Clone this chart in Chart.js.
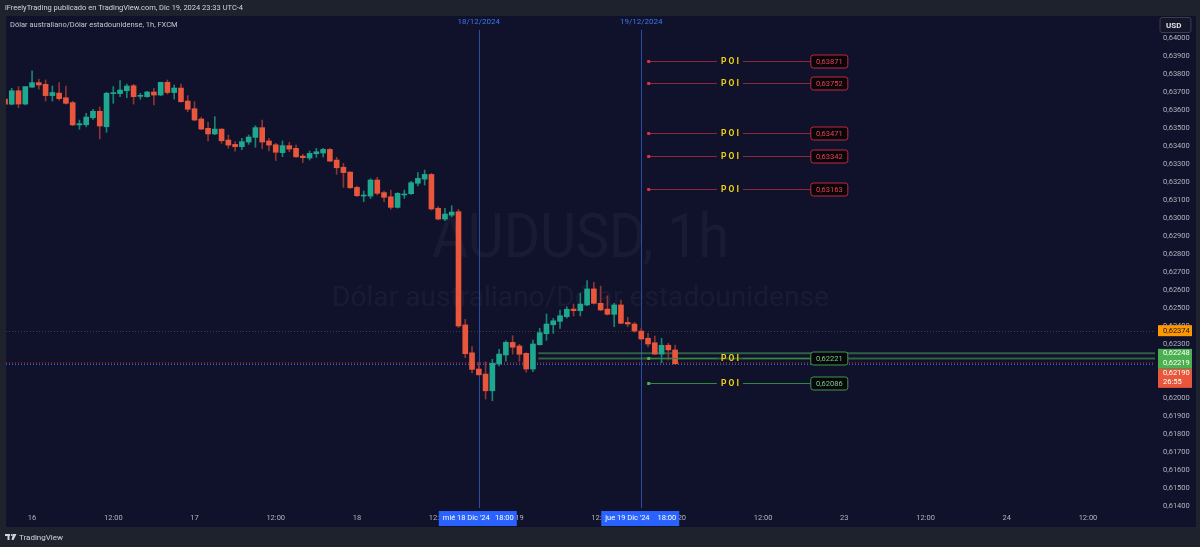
<!DOCTYPE html>
<html>
<head>
<meta charset="utf-8">
<script src="https://cdn.jsdelivr.net/npm/chart.js@4.4.1/dist/chart.umd.min.js"></script>
<style>
  html, body { margin: 0; padding: 0; background: #1e222d; overflow: hidden; }
  canvas { display: block; }
</style>
</head>
<body>
<canvas id="chart" width="1200" height="547"></canvas>
<script>
// AUDUSD 1h candles, prices in 1e-5 units (pipettes), first candle = Dec 15 20:00
const firstHour = -4;
const opens = [
  63661,63632,63707,63633,63727,63752,63743,63680,63694,63668,
  63641,63517,63518,63557,63593,63507,63691,63691,63707,63735,
  63676,63674,63700,63683,63754,63697,63722,63650,63607,63550,
  63498,63467,63494,63433,63409,63396,63422,63448,63502,63428,
  63407,63363,63402,63387,63344,63333,63357,63361,63381,63322,
  63282,63255,63170,63122,63122,63211,63141,63118,63059,63128,
  63135,63193,63216,63242,63054,62994,63016,63035,62406,62251,
  62161,62133,62040,62189,62239,62309,62289,62248,62161,62296,
  62357,62407,62426,62452,62494,62485,62517,62606,62526,62494,
  62465,62517,62420,62411,62372,62332,62307,62244,62293,62267
];
const highs = [
  63672,63721,63730,63730,63817,63771,63767,63733,63752,63733,
  63648,63544,63582,63604,63617,63698,63730,63763,63744,63743,
  63693,63704,63721,63754,63767,63739,63744,63680,63646,63560,
  63532,63563,63496,63461,63424,63442,63461,63513,63544,63442,
  63415,63428,63420,63405,63354,63372,63387,63387,63387,63337,
  63304,63257,63177,63150,63218,63226,63150,63155,63141,63155,
  63204,63252,63266,63248,63063,63054,63068,63048,62437,62285,
  62199,62201,62215,62270,62318,62346,62298,62252,62322,62387,
  62467,62442,62489,62507,62522,62582,62652,62643,62622,62568,
  62526,62544,62448,62420,62387,62359,62344,62332,62304,62294
];
const lows = [
  63622,63628,63613,63628,63725,63716,63650,63650,63654,63632,
  63513,63493,63507,63548,63439,63476,63637,63674,63668,63633,
  63660,63671,63628,63680,63688,63661,63643,63591,63541,63491,
  63428,63463,63415,63387,63371,63379,63409,63393,63385,63372,
  63319,63341,63368,63337,63308,63322,63337,63340,63313,63243,
  63170,63164,63118,63091,63109,63128,63091,63048,63055,63109,
  63131,63178,63183,63044,62989,62985,63007,62392,62224,62140,
  62126,61994,61985,62178,62204,62244,62204,62143,62146,62294,
  62320,62359,62387,62444,62456,62456,62513,62522,62485,62461,
  62396,62411,62396,62365,62322,62285,62242,62196,62211,62188
];
const closes = [
  63633,63707,63633,63730,63752,63739,63680,63697,63663,63637,
  63517,63524,63561,63593,63511,63693,63694,63711,63733,63674,
  63679,63700,63683,63754,63697,63722,63646,63604,63544,63494,
  63467,63494,63429,63405,63396,63424,63450,63502,63422,63405,
  63365,63402,63383,63340,63335,63359,63368,63381,63316,63279,
  63252,63168,63124,63126,63211,63137,63115,63059,63137,63133,
  63196,63220,63242,63050,62994,63022,63033,62400,62246,62159,
  62129,62040,62193,62244,62309,62282,62243,62161,62300,62363,
  62411,62429,62457,62493,62485,62522,62606,62526,62489,62465,
  62517,62415,62411,62372,62328,62300,62244,62293,62267,62190
];

// time axis (hours counted from Dec 16 00:00, weekend skipped)
const tickHours = [0, 12, 24, 36, 48, 60, 72, 84, 96, 108, 120, 132, 144, 156];
const tickLabels = ['16', '12:00', '17', '12:00', '18', '12:00', '19', '12:00', '20', '12:00', '23', '12:00', '24', '12:00'];
const priceTicks = [0.614, 0.615, 0.616, 0.617, 0.618, 0.619, 0.620, 0.621, 0.622, 0.623, 0.624, 0.625, 0.626,
  0.627, 0.628, 0.629, 0.630, 0.631, 0.632, 0.633, 0.634, 0.635, 0.636, 0.637, 0.638, 0.639, 0.640];

// drawings
const redPOI = [0.63871, 0.63752, 0.63471, 0.63342, 0.63163];
const greenPOI = [0.62221, 0.62086];
const greenLevels = [0.62248, 0.62219];
const greenLevelsFromHour = 74.8;
const prevClose = 0.62374;
const lastPrice = 0.62190;
const countdown = '26:55';
const markerHours = [66, 90];
const markerTop = ['18/12/2024', '19/12/2024'];
const markerBottom = ["mié 18 Dic '24", "jue 19 Dic '24"];
const markerTime = ['18:00', '18:00'];

const toPrice = v => v / 100000;
const fmt = v => v.toFixed(5).replace('.', ',');
const UP = '#1ea88f', DOWN = '#e8563c';
const isUp = opens.map((o, i) => closes[i] >= o);

const bodies = opens.map((o, i) => ({ x: firstHour + i, y: [toPrice(o), toPrice(closes[i])] }));
const wicks = highs.map((h, i) => ({ x: firstHour + i, y: [toPrice(lows[i]), toPrice(h)] }));

const FONT = 'Roboto, "Noto Sans", sans-serif';

function scaledText(c, text, cx, baseline, targetW, font) {
  c.font = font;
  const w = c.measureText(text).width;
  c.save();
  c.translate(cx, baseline);
  c.scale(targetW / w, 1);
  c.textAlign = 'center';
  c.textBaseline = 'alphabetic';
  c.fillText(text, 0, 0);
  c.restore();
}

function roundRect(c, x, y, w, h, r) {
  c.beginPath();
  c.moveTo(x + r, y);
  c.lineTo(x + w - r, y);
  c.quadraticCurveTo(x + w, y, x + w, y + r);
  c.lineTo(x + w, y + h - r);
  c.quadraticCurveTo(x + w, y + h, x + w - r, y + h);
  c.lineTo(x + r, y + h);
  c.quadraticCurveTo(x, y + h, x, y + h - r);
  c.lineTo(x, y + r);
  c.quadraticCurveTo(x, y, x + r, y);
  c.closePath();
}

const decor = {
  id: 'decor',
  beforeDraw(chart) {
    const c = chart.ctx;
    c.save();
    c.fillStyle = '#1e222d';
    c.fillRect(0, 0, chart.width, chart.height);
    c.fillStyle = '#10112a';
    c.fillRect(6, 16, 1190, 511);

    c.fillStyle = '#d1d4dc';
    c.font = '7.5px ' + FONT;
    c.textBaseline = 'middle';
    c.fillText('iFreelyTrading publicado en TradingView.com, Dic 19, 2024 23:33 UTC-4', 5, 8);
    c.fillStyle = '#c5c8d0';
    c.fillText('Dólar australiano/Dólar estadounidense, 1h, FXCM', 10, 25);

    // footer logo + name
    c.fillStyle = '#d1d4dc';
    c.fillRect(5, 534, 5, 2);
    c.fillRect(7.5, 534, 2, 6);
    c.beginPath(); c.arc(11.8, 535, 1, 0, Math.PI * 2); c.fill();
    c.beginPath(); c.moveTo(13, 534); c.lineTo(16.5, 534); c.lineTo(13.5, 540); c.lineTo(11.5, 540); c.closePath(); c.fill();
    c.font = '8px ' + FONT;
    c.fillText('TradingView', 19, 537.5);
    c.restore();
  },
  beforeDatasetsDraw(chart) {
    const c = chart.ctx, a = chart.chartArea;
    const xs = chart.scales.x, ys = chart.scales.y;
    c.save();
    c.beginPath(); c.rect(a.left, a.top, a.right - a.left, a.bottom - a.top); c.clip();
    // watermark
    c.fillStyle = 'rgba(150,155,185,0.075)';
    const cx = (a.left + a.right) / 2;
    scaledText(c, 'AUDUSD, 1h', cx, 257, 297, '62px ' + FONT);
    scaledText(c, 'Dólar australiano/Dólar estadounidense', cx, 306, 497, '27px ' + FONT);

    // date markers
    c.strokeStyle = '#2a4ba6';
    c.lineWidth = 1;
    markerHours.forEach(h => {
      const x = Math.round(xs.getPixelForValue(h)) + 0.5;
      c.beginPath(); c.moveTo(x, 30); c.lineTo(x, a.bottom); c.stroke();
    });

    // dotted price lines
    c.setLineDash([1, 2]);
    const yPrev = Math.round(ys.getPixelForValue(prevClose)) + 0.5;
    c.strokeStyle = 'rgba(150,120,70,0.4)';
    c.beginPath(); c.moveTo(a.left, yPrev); c.lineTo(a.right, yPrev); c.stroke();
    const yLast = Math.round(ys.getPixelForValue(lastPrice)) + 0.5;
    c.strokeStyle = 'rgba(232,86,60,0.8)';
    c.beginPath(); c.moveTo(a.left, yLast - 1.5); c.lineTo(a.right, yLast - 1.5); c.stroke();
    c.strokeStyle = 'rgba(60,110,255,0.85)';
    c.beginPath(); c.moveTo(a.left, yLast); c.lineTo(a.right, yLast); c.stroke();
    c.setLineDash([]);

    // green levels
    c.strokeStyle = 'rgba(70,150,85,0.6)';
    c.lineWidth = 2;
    const x0 = xs.getPixelForValue(greenLevelsFromHour);
    greenLevels.forEach(p => {
      const y = ys.getPixelForValue(p);
      c.beginPath(); c.moveTo(x0, y); c.lineTo(a.right, y); c.stroke();
    });
    c.restore();
  },
  afterDatasetsDraw(chart) {
    const c = chart.ctx;
    const xs = chart.scales.x, ys = chart.scales.y;
    const xStart = xs.getPixelForValue(91.1);
    const xText = xs.getPixelForValue(103.1);
    const xBox = xs.getPixelForValue(115.05);
    const drawPOI = (p, line, dot, border, text) => {
      const y = Math.round(ys.getPixelForValue(p)) + 0.5;
      c.strokeStyle = line;
      c.lineWidth = 1;
      c.beginPath();
      c.moveTo(xStart, y); c.lineTo(xText - 13, y);
      c.moveTo(xText + 13, y); c.lineTo(xBox, y);
      c.stroke();
      c.fillStyle = dot;
      c.fillRect(xStart - 1.5, y - 1.5, 3, 3);
      c.fillStyle = '#f2cf10';
      c.font = 'bold 8.5px ' + FONT;
      c.textAlign = 'center';
      c.textBaseline = 'middle';
      c.fillText('P O I', xText, y + 0.5);
      roundRect(c, xBox, y - 6.5, 37, 13, 2.5);
      c.fillStyle = '#06060c';
      c.fill();
      c.strokeStyle = border;
      c.stroke();
      c.fillStyle = text;
      c.font = '7.5px ' + FONT;
      c.fillText(fmt(p), xBox + 18.5, y + 0.5);
    };
    c.save();
    redPOI.forEach(p => drawPOI(p, '#8c2838', '#e0303f', '#c8283a', '#f0404f'));
    greenPOI.forEach(p => drawPOI(p, '#2f8a3e', '#4caf50', '#3f9a48', '#7ccf7f'));
    c.restore();
  },
  afterDraw(chart) {
    const c = chart.ctx, a = chart.chartArea;
    const xs = chart.scales.x, ys = chart.scales.y;
    c.save();
    c.textAlign = 'center';
    c.textBaseline = 'middle';
    // top date labels
    c.font = '8px ' + FONT;
    c.fillStyle = '#3a78f2';
    markerHours.forEach((h, i) => c.fillText(markerTop[i], xs.getPixelForValue(h), 21.5));

    // bottom date boxes
    markerHours.forEach((h, i) => {
      const x = xs.getPixelForValue(h);
      c.fillStyle = '#2962ff';
      c.fillRect(x - 40, 511, 78, 15);
      c.fillStyle = '#ffffff';
      c.font = '7.5px ' + FONT;
      c.textAlign = 'left';
      c.fillText(markerBottom[i], x - 36, 518.5);
      c.textAlign = 'right';
      c.fillText(markerTime[i], x + 35, 518.5);
    });

    // price axis labels
    const bx = a.right + 3, bw = 34;
    c.textAlign = 'left';
    // USD
    roundRect(c, 1160, 17.5, 31, 15, 2);
    c.fillStyle = '#151629';
    c.fill();
    c.strokeStyle = '#3a3d4a';
    c.lineWidth = 1;
    c.stroke();
    c.fillStyle = '#e0e3eb';
    c.font = 'bold 8px ' + FONT;
    c.fillText('USD', 1166, 25.5);

    c.font = '7.5px ' + FONT;
    const yPrev = ys.getPixelForValue(prevClose);
    c.fillStyle = '#ff9800';
    c.fillRect(bx, yPrev - 5.5, bw, 11);
    c.fillStyle = '#131722';
    c.fillText(fmt(prevClose), bx + 5, yPrev + 0.5);

    const g1 = ys.getPixelForValue(greenLevels[0]);
    c.fillStyle = '#4caf50';
    c.fillRect(bx, g1 - 4.5, bw, 20);
    c.fillStyle = '#ffffff';
    c.fillText(fmt(greenLevels[0]), bx + 5, g1);
    c.fillText(fmt(greenLevels[1]), bx + 5, g1 + 10);
    c.fillStyle = '#e8563c';
    c.fillRect(bx, g1 + 15.5, bw, 19);
    c.fillStyle = '#ffffff';
    c.fillText(fmt(lastPrice), bx + 5, g1 + 20);
    c.fillText(countdown, bx + 5, g1 + 29);
    c.restore();
  }
};

new Chart(document.getElementById('chart'), {
  type: 'bar',
  data: {
    datasets: [
      {
        label: 'bodies',
        data: bodies,
        backgroundColor: isUp.map(u => u ? UP : DOWN),
        barThickness: 5,
        minBarLength: 1,
        borderWidth: 0,
        grouped: false,
        clip: 0
      },
      {
        label: 'wicks',
        data: wicks,
        backgroundColor: isUp.map(u => u ? '#178572' : '#8e3432'),
        barThickness: 1,
        borderWidth: 0,
        grouped: false,
        clip: 0
      }
    ]
  },
  options: {
    responsive: false,
    animation: false,
    layout: { padding: { left: 6, top: 16, right: 4, bottom: 20 } },
    plugins: { legend: { display: false }, tooltip: { enabled: false } },
    scales: {
      x: {
        type: 'linear',
        offset: false,
        min: -3.85,
        max: 165.9,
        grid: { display: false, drawTicks: false, offset: false },
        border: { display: false },
        afterBuildTicks: s => { s.ticks = tickHours.map(v => ({ value: v })); },
        afterFit: s => { s.height = 19; },
        ticks: {
          autoSkip: false,
          maxRotation: 0,
          padding: 6,
          color: '#b2b5be',
          font: { family: FONT, size: 7.5 },
          callback: (v, i) => tickLabels[i]
        }
      },
      y: {
        position: 'right',
        min: 0.613889,
        max: 0.641222,
        grid: { display: false, drawTicks: false },
        border: { display: false },
        afterBuildTicks: s => { s.ticks = priceTicks.map(v => ({ value: v })); },
        afterFit: s => { s.width = 41; },
        ticks: {
          padding: 8,
          color: '#b2b5be',
          font: { family: FONT, size: 7.5 },
          callback: v => fmt(v)
        }
      }
    }
  },
  plugins: [decor]
});
</script>
</body>
</html>
